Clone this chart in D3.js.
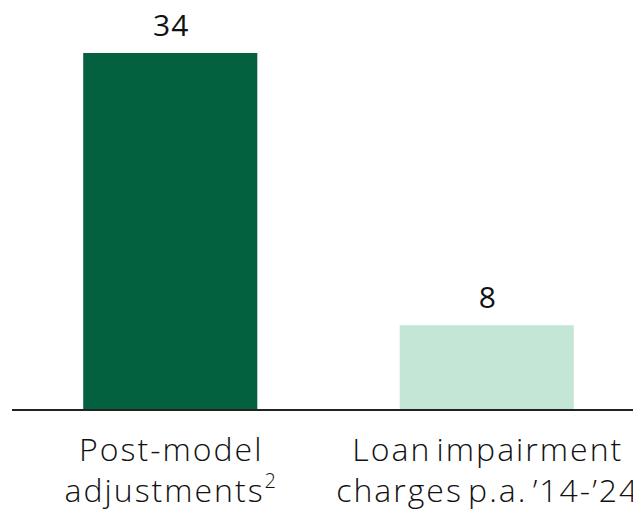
<!DOCTYPE html>
<html>
<head>
<meta charset="utf-8">
<script src="https://cdn.jsdelivr.net/npm/d3@7"></script>
<style>
  html, body { margin: 0; padding: 0; background: #fff; }
  svg { display: block; font-family: "Open Sans", Lato, sans-serif; }
</style>
</head>
<body>
<svg id="chart" width="633" height="514"></svg>
<script>
// Bar categories (two-line labels, superscript note marker) and values
const categories = ["pma", "lic"];
const labelLine1 = ["Post-model", "Loan impairment"];
const labelLine2 = ["adjustments", "charges p.a. ’14-’24"];
const labelNote = ["2", ""];
const values = [34, 8];
const barColors = ["#03613f", "#c3e6d7"];

const svg = d3.select("#chart");
const baseY = 409;

const x = d3.scaleBand()
  .domain(categories)
  .range([12, 645])
  .paddingInner(0.45)
  .paddingOuter(0.225);

const y = d3.scaleLinear()
  .domain([0, 34])
  .range([baseY, 53]);

// bars
svg.selectAll("rect.bar")
  .data(categories)
  .join("rect")
  .attr("class", "bar")
  .attr("x", d => x(d))
  .attr("width", x.bandwidth())
  .attr("y", (d, i) => y(values[i]))
  .attr("height", (d, i) => y(0) - y(values[i]))
  .attr("fill", (d, i) => barColors[i]);

// value labels
svg.selectAll("text.val")
  .data(categories)
  .join("text")
  .attr("class", "val")
  .attr("x", d => x(d) + x.bandwidth() / 2 + 1)
  .attr("y", (d, i) => y(values[i]) - 17)
  .attr("text-anchor", "middle")
  .attr("font-size", 30)
  .attr("letter-spacing", 1)
  .attr("fill", "#111")
  .text((d, i) => values[i]);

// baseline
svg.append("line")
  .attr("x1", x.range()[0])
  .attr("x2", x.range()[1])
  .attr("y1", baseY + 1)
  .attr("y2", baseY + 1)
  .attr("stroke", "#222")
  .attr("stroke-width", 2);

// category labels
const lab = svg.selectAll("text.cat")
  .data(categories)
  .join("text")
  .attr("class", "cat")
  .attr("text-anchor", "middle")
  .attr("font-size", 32)
  .attr("font-weight", 300)
  .attr("letter-spacing", 2)
  .attr("word-spacing", -5)
  .attr("fill", "#111");

lab.append("tspan")
  .attr("x", d => x(d) + x.bandwidth() / 2 + 1)
  .attr("y", 461)
  .text((d, i) => labelLine1[i]);

lab.append("tspan")
  .attr("x", d => x(d) + x.bandwidth() / 2 + 1)
  .attr("y", 502)
  .text((d, i) => labelLine2[i]);

lab.each(function(d, i) {
  if (labelNote[i]) {
    d3.select(this).select("tspan:last-child")
      .append("tspan")
      .attr("dy", -14)
      .attr("font-size", 20)
      .text(labelNote[i]);
  }
});
</script>
</body>
</html>
